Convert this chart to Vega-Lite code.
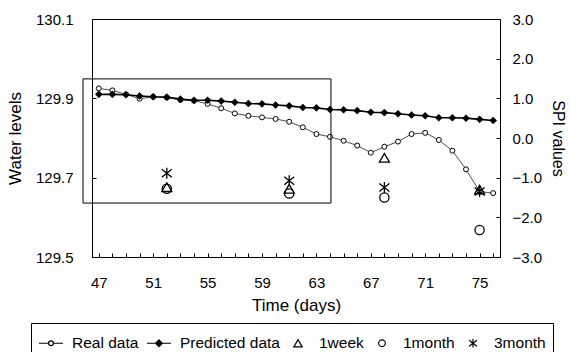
{
  "$schema": "https://vega.github.io/schema/vega-lite/v6.json",
  "width": 408,
  "height": 238,
  "autosize": {"type": "none"},
  "padding": {"left": 92, "top": 19, "right": 71, "bottom": 95},
  "background": "white",
  "config": {
    "font": "Liberation Sans",
    "view": {"stroke": "black", "strokeWidth": 1},
    "axis": {
      "grid": false,
      "domainColor": "black",
      "tickColor": "black",
      "labelColor": "black",
      "titleColor": "black",
      "labelFont": "Liberation Sans",
      "titleFont": "Liberation Sans",
      "labelFontSize": 15,
      "titleFontSize": 17,
      "titleFontWeight": "normal",
      "tickSize": -4
    },
    "legend": {
      "orient": "none",
      "legendX": -61,
      "legendY": 304,
      "direction": "horizontal",
      "strokeColor": "black",
      "padding": 7,
      "labelFont": "Liberation Sans",
      "labelFontSize": 15.5,
      "labelColor": "black",
      "labelOffset": 8,
      "columnPadding": 5,
      "symbolSize": 576,
      "symbolStrokeWidth": 1.2
    }
  },
  "datasets": {
    "levels": [
      {"day": 47, "series": "Real data", "level": 129.925},
      {"day": 48, "series": "Real data", "level": 129.920},
      {"day": 49, "series": "Real data", "level": 129.910},
      {"day": 50, "series": "Real data", "level": 129.899},
      {"day": 51, "series": "Real data", "level": 129.904},
      {"day": 52, "series": "Real data", "level": 129.902},
      {"day": 53, "series": "Real data", "level": 129.896},
      {"day": 54, "series": "Real data", "level": 129.894},
      {"day": 55, "series": "Real data", "level": 129.886},
      {"day": 56, "series": "Real data", "level": 129.875},
      {"day": 57, "series": "Real data", "level": 129.862},
      {"day": 58, "series": "Real data", "level": 129.856},
      {"day": 59, "series": "Real data", "level": 129.852},
      {"day": 60, "series": "Real data", "level": 129.848},
      {"day": 61, "series": "Real data", "level": 129.841},
      {"day": 62, "series": "Real data", "level": 129.827},
      {"day": 63, "series": "Real data", "level": 129.810},
      {"day": 64, "series": "Real data", "level": 129.803},
      {"day": 65, "series": "Real data", "level": 129.793},
      {"day": 66, "series": "Real data", "level": 129.781},
      {"day": 67, "series": "Real data", "level": 129.763},
      {"day": 68, "series": "Real data", "level": 129.778},
      {"day": 69, "series": "Real data", "level": 129.791},
      {"day": 70, "series": "Real data", "level": 129.810},
      {"day": 71, "series": "Real data", "level": 129.813},
      {"day": 72, "series": "Real data", "level": 129.795},
      {"day": 73, "series": "Real data", "level": 129.768},
      {"day": 74, "series": "Real data", "level": 129.721},
      {"day": 75, "series": "Real data", "level": 129.665},
      {"day": 76, "series": "Real data", "level": 129.661},
      {"day": 47, "series": "Predicted data", "level": 129.910},
      {"day": 48, "series": "Predicted data", "level": 129.910},
      {"day": 49, "series": "Predicted data", "level": 129.909},
      {"day": 50, "series": "Predicted data", "level": 129.906},
      {"day": 51, "series": "Predicted data", "level": 129.904},
      {"day": 52, "series": "Predicted data", "level": 129.903},
      {"day": 53, "series": "Predicted data", "level": 129.898},
      {"day": 54, "series": "Predicted data", "level": 129.895},
      {"day": 55, "series": "Predicted data", "level": 129.895},
      {"day": 56, "series": "Predicted data", "level": 129.893},
      {"day": 57, "series": "Predicted data", "level": 129.890},
      {"day": 58, "series": "Predicted data", "level": 129.887},
      {"day": 59, "series": "Predicted data", "level": 129.886},
      {"day": 60, "series": "Predicted data", "level": 129.883},
      {"day": 61, "series": "Predicted data", "level": 129.881},
      {"day": 62, "series": "Predicted data", "level": 129.877},
      {"day": 63, "series": "Predicted data", "level": 129.876},
      {"day": 64, "series": "Predicted data", "level": 129.872},
      {"day": 65, "series": "Predicted data", "level": 129.871},
      {"day": 66, "series": "Predicted data", "level": 129.869},
      {"day": 67, "series": "Predicted data", "level": 129.865},
      {"day": 68, "series": "Predicted data", "level": 129.864},
      {"day": 69, "series": "Predicted data", "level": 129.861},
      {"day": 70, "series": "Predicted data", "level": 129.858},
      {"day": 71, "series": "Predicted data", "level": 129.856},
      {"day": 72, "series": "Predicted data", "level": 129.851},
      {"day": 73, "series": "Predicted data", "level": 129.851},
      {"day": 74, "series": "Predicted data", "level": 129.850},
      {"day": 75, "series": "Predicted data", "level": 129.847},
      {"day": 76, "series": "Predicted data", "level": 129.844}
    ],
    "spi": [
      {"day": 52, "series": "1week", "spi": -1.24},
      {"day": 52, "series": "1month", "spi": -1.28},
      {"day": 52, "series": "3month", "spi": -0.89},
      {"day": 61, "series": "1week", "spi": -1.28},
      {"day": 61, "series": "1month", "spi": -1.40},
      {"day": 61, "series": "3month", "spi": -1.08},
      {"day": 68, "series": "1week", "spi": -0.50},
      {"day": 68, "series": "1month", "spi": -1.50},
      {"day": 68, "series": "3month", "spi": -1.25},
      {"day": 75, "series": "1week", "spi": -1.30},
      {"day": 75, "series": "1month", "spi": -2.32},
      {"day": 75, "series": "3month", "spi": -1.35}
    ],
    "window": [
      {"start": 45.84, "end": 64.07, "high": 129.949, "low": 129.636}
    ],
    "keys": [
      {"series": "Real data"},
      {"series": "Predicted data"},
      {"series": "1week"},
      {"series": "1month"},
      {"series": "3month"}
    ]
  },
  "encoding": {
    "x": {
      "field": "day",
      "type": "quantitative",
      "scale": {"domain": [46.5, 76.5], "nice": false, "zero": false},
      "axis": {
        "title": "Time (days)",
        "values": [47, 48, 49, 50, 51, 52, 53, 54, 55, 56, 57, 58, 59, 60, 61, 62, 63, 64, 65, 66, 67, 68, 69, 70, 71, 72, 73, 74, 75, 76],
        "labelExpr": "(datum.value - 47) % 4 === 0 ? datum.label : ''",
        "labelPadding": 22,
        "titlePadding": 7
      }
    }
  },
  "layer": [
    {
      "data": {"name": "levels"},
      "encoding": {
        "y": {
          "field": "level",
          "type": "quantitative",
          "scale": {"domain": [129.5, 130.1], "nice": false, "zero": false},
          "axis": {
            "orient": "left",
            "title": "Water levels",
            "values": [129.5, 129.7, 129.9, 130.1],
            "format": ".1f",
            "labelPadding": 23,
            "titlePadding": 11
          }
        }
      },
      "layer": [
        {
          "transform": [{"filter": "datum.series === 'Real data'"}],
          "mark": {"type": "line", "stroke": "#222", "strokeWidth": 0.8}
        },
        {
          "transform": [{"filter": "datum.series === 'Predicted data'"}],
          "mark": {"type": "line", "stroke": "black", "strokeWidth": 1.6}
        },
        {
          "transform": [{"filter": "datum.series === 'Real data'"}],
          "mark": {"type": "point", "shape": "circle", "size": 25, "filled": true, "fill": "white", "stroke": "black", "strokeWidth": 1, "opacity": 1}
        },
        {
          "transform": [{"filter": "datum.series === 'Predicted data'"}],
          "mark": {"type": "point", "shape": "diamond", "size": 50, "filled": true, "fill": "black", "stroke": "black", "strokeWidth": 0.5, "opacity": 1}
        },
        {
          "data": {"name": "window"},
          "mark": {"type": "rect", "fill": "transparent", "stroke": "black", "strokeWidth": 1, "clip": false},
          "encoding": {
            "x": {"field": "start", "type": "quantitative"},
            "x2": {"field": "end"},
            "y": {
              "field": "high",
              "type": "quantitative",
              "axis": {
                "orient": "left",
                "title": "Water levels",
                "values": [129.5, 129.7, 129.9, 130.1],
                "format": ".1f",
                "labelPadding": 23,
                "titlePadding": 11
              }
            },
            "y2": {"field": "low"}
          }
        }
      ]
    },
    {
      "encoding": {
        "y": {
          "field": "spi",
          "type": "quantitative",
          "scale": {"domain": [-3, 3], "nice": false, "zero": false},
          "axis": {
            "orient": "right",
            "title": "SPI values",
            "values": [-3, -2, -1, 0, 1, 2, 3],
            "format": ".1f",
            "labelPadding": 16,
            "titlePadding": 8,
            "titleFontSize": 16
          }
        }
      },
      "layer": [
        {
          "data": {"name": "spi"},
          "transform": [{"filter": "datum.series === '1week'"}],
          "mark": {"type": "point", "shape": "triangle-up", "size": 100, "filled": false, "stroke": "black", "strokeWidth": 1.3, "opacity": 1}
        },
        {
          "data": {"name": "spi"},
          "transform": [{"filter": "datum.series === '1month'"}],
          "mark": {"type": "point", "shape": "circle", "size": 85, "filled": false, "stroke": "black", "strokeWidth": 1.3, "opacity": 1}
        },
        {
          "data": {"name": "spi"},
          "transform": [{"filter": "datum.series === '3month'"}],
          "mark": {"type": "point", "shape": "M-1,-0.8L1,0.8M-1,0.8L1,-0.8M0,-1.1L0,1.1", "size": 100, "filled": false, "stroke": "black", "strokeWidth": 1.3, "opacity": 1}
        },
        {
          "data": {"name": "keys"},
          "mark": {"type": "point", "filled": true, "strokeWidth": 1.2, "opacity": 1, "size": 576},
          "encoding": {
            "shape": {
              "field": "series",
              "type": "nominal",
              "scale": {
                "domain": ["Real data", "Predicted data", "1week", "1month", "3month"],
                "range": [
                  "M-1,0L-0.2,0M0.2,0L1,0M0.2,0A0.2,0.2,0,1,1,-0.2,0A0.2,0.2,0,1,1,0.2,0Z",
                  "M-1,0L1,0M0,-0.28L0.28,0L0,0.28L-0.28,0Z",
                  "M0,-0.3L0.35,0.3L-0.35,0.3Z",
                  "M0.28,0A0.28,0.28,0,1,1,-0.28,0A0.28,0.28,0,1,1,0.28,0Z",
                  "M-0.33,-0.25L0.33,0.25M-0.33,0.25L0.33,-0.25M0,-0.35L0,0.35"
                ]
              },
              "legend": {"title": null}
            },
            "fill": {
              "field": "series",
              "type": "nominal",
              "scale": {
                "domain": ["Real data", "Predicted data", "1week", "1month", "3month"],
                "range": ["white", "black", "transparent", "transparent", "transparent"]
              },
              "legend": {"title": null}
            },
            "stroke": {
              "field": "series",
              "type": "nominal",
              "scale": {
                "domain": ["Real data", "Predicted data", "1week", "1month", "3month"],
                "range": ["black", "black", "black", "black", "black"]
              },
              "legend": {"title": null}
            }
          }
        }
      ]
    }
  ],
  "resolve": {"scale": {"y": "independent"}}
}
